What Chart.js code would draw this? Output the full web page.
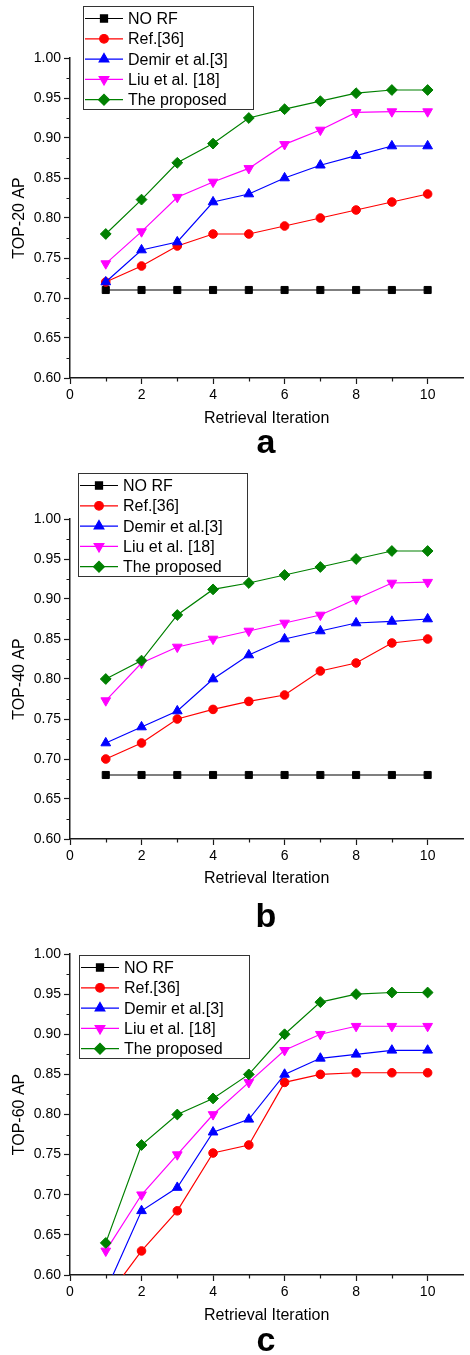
<!DOCTYPE html>
<html>
<head>
<meta charset="utf-8">
<script src="https://cdn.jsdelivr.net/npm/chart.js@4/dist/chart.umd.min.js"></script>
<style>
html,body{margin:0;padding:0;background:#fff;}
body{width:470px;height:1355px;position:relative;overflow:hidden;}
.panel{position:absolute;left:0;width:470px;}
</style>
</head>
<body>
<div class="panel" style="top:0;height:460px"><canvas id="ca"></canvas></div>
<div class="panel" style="top:460px;height:470px"><canvas id="cb"></canvas></div>
<div class="panel" style="top:930px;height:425px"><canvas id="cc"></canvas></div>
<script>
// ---------- data ----------
const iterations = [1, 2, 3, 4, 5, 6, 7, 8, 9, 10];
const seriesNames = ['NO RF', 'Ref.[36]', 'Demir et al.[3]', 'Liu et al. [18]', 'The proposed'];
const panelLetters = ['a', 'b', 'c'];
const yAxisTitles = ['TOP-20 AP', 'TOP-40 AP', 'TOP-60 AP'];
const xAxisTitle = 'Retrieval Iteration';

// TOP-20
const top20NoRF     = [0.71, 0.71, 0.71, 0.71, 0.71, 0.71, 0.71, 0.71, 0.71, 0.71];
const top20Ref36    = [0.72, 0.74, 0.765, 0.78, 0.78, 0.79, 0.80, 0.81, 0.82, 0.83];
const top20Demir    = [0.72, 0.76, 0.77, 0.82, 0.83, 0.85, 0.866, 0.878, 0.89, 0.89];
const top20Liu      = [0.743, 0.783, 0.826, 0.845, 0.862, 0.892, 0.91, 0.932, 0.933, 0.933];
const top20Proposed = [0.78, 0.823, 0.869, 0.893, 0.925, 0.936, 0.946, 0.956, 0.96, 0.96];

// TOP-40
const top40NoRF     = [0.68, 0.68, 0.68, 0.68, 0.68, 0.68, 0.68, 0.68, 0.68, 0.68];
const top40Ref36    = [0.70, 0.72, 0.75, 0.762, 0.772, 0.78, 0.81, 0.82, 0.845, 0.85];
const top40Demir    = [0.72, 0.74, 0.76, 0.80, 0.83, 0.85, 0.86, 0.87, 0.872, 0.875];
const top40Liu      = [0.773, 0.82, 0.84, 0.85, 0.86, 0.87, 0.88, 0.90, 0.92, 0.921];
const top40Proposed = [0.80, 0.823, 0.88, 0.912, 0.92, 0.93, 0.94, 0.95, 0.96, 0.96];

// TOP-60 (NO RF lies below the visible range)
const top60NoRF     = [0.55, 0.55, 0.55, 0.55, 0.55, 0.55, 0.55, 0.55, 0.55, 0.55];
const top60Ref36    = [0.57, 0.63, 0.68, 0.752, 0.762, 0.84, 0.85, 0.852, 0.852, 0.852];
const top60Demir    = [0.58, 0.68, 0.709, 0.778, 0.794, 0.85, 0.87, 0.875, 0.88, 0.88];
const top60Liu      = [0.63, 0.70, 0.75, 0.80, 0.84, 0.88, 0.90, 0.91, 0.91, 0.91];
const top60Proposed = [0.64, 0.762, 0.80, 0.82, 0.85, 0.90, 0.94, 0.95, 0.952, 0.952];

// ---------- styles ----------
const COLORS = ['#000000', '#ff0000', '#0000ff', '#ff00ff', '#008000'];
const STYLES = ['rect', 'circle', 'triangle', 'triangle', 'rectRot'];
const ROTS   = [0, 0, 0, 180, 0];
const RADII  = [5, 4.3, 5.6, 5.6, 5.4];
const FONT = '"Liberation Sans", Arial, Helvetica, sans-serif';

Chart.defaults.font.family = FONT;
Chart.defaults.color = '#000';

function drawMarker(ctx, style, rot, r, x, y) {
  if (Chart.helpers && Chart.helpers.drawPoint) {
    Chart.helpers.drawPoint(ctx, {pointStyle: style, rotation: rot, radius: r, borderWidth: 1}, x, y);
    return;
  }
  ctx.beginPath(); ctx.arc(x, y, r, 0, Math.PI * 2); ctx.fill();
}

const decor = {
  id: 'decor',
  afterDraw(chart, args, opts) {
    const ctx = chart.ctx;
    const xs = chart.scales.x, ys = chart.scales.y;
    ctx.save();
    // minor ticks
    ctx.strokeStyle = '#1a1a1a';
    ctx.lineWidth = 1.2;
    ctx.beginPath();
    for (let k = 0; k < 8; k++) {
      const v = 0.625 + k * 0.05;
      const py = Math.round(ys.getPixelForValue(v)) + 0.5;
      ctx.moveTo(chart.chartArea.left - 3.5, py);
      ctx.lineTo(chart.chartArea.left, py);
    }
    for (let k = 1; k <= 9; k += 2) {
      const px = Math.round(xs.getPixelForValue(k)) + 0.5;
      ctx.moveTo(px, chart.chartArea.bottom);
      ctx.lineTo(px, chart.chartArea.bottom + 3.5);
    }
    ctx.stroke();

    // legend box
    const lg = opts.legend;
    ctx.fillStyle = '#fff';
    ctx.fillRect(lg.x, lg.y, lg.w, lg.h);
    ctx.strokeStyle = '#333';
    ctx.lineWidth = 1;
    ctx.strokeRect(lg.x + 0.5, lg.y + 0.5, lg.w, lg.h);
    chart.data.datasets.forEach((ds, i) => {
      const cy = lg.y + 12.5 + i * 20.3;
      ctx.strokeStyle = ds.borderColor;
      ctx.lineWidth = 1.2;
      ctx.beginPath();
      ctx.moveTo(lg.x + 2, cy);
      ctx.lineTo(lg.x + 40, cy);
      ctx.stroke();
      ctx.fillStyle = ds.backgroundColor;
      ctx.strokeStyle = ds.backgroundColor;
      drawMarker(ctx, ds.pointStyle, ds.pointRotation, ds.pointRadius, lg.x + 21, cy);
      ctx.fillStyle = '#000';
      ctx.font = '16px ' + FONT;
      ctx.textAlign = 'left';
      ctx.textBaseline = 'middle';
      ctx.fillText(ds.label, lg.x + 45, cy + 1);
    });

    // panel letter
    ctx.fillStyle = '#000';
    ctx.font = 'bold 34px ' + FONT;
    ctx.textAlign = 'center';
    ctx.textBaseline = 'alphabetic';
    ctx.fillText(opts.letter, 266, opts.letterBaseline);
    ctx.restore();
  }
};

function makeChart(id, cfg) {
  const datasets = cfg.series.map((vals, i) => ({
    label: seriesNames[i],
    data: iterations.map((x, j) => ({x: x, y: vals[j]})),
    borderColor: COLORS[i],
    backgroundColor: COLORS[i],
    pointBackgroundColor: COLORS[i],
    pointBorderColor: COLORS[i],
    pointBorderWidth: 1,
    pointStyle: STYLES[i],
    pointRotation: ROTS[i],
    pointRadius: RADII[i],
    pointHoverRadius: RADII[i],
    borderWidth: 1.2,
    tension: 0,
    order: 5 - i
  }));
  return new Chart(document.getElementById(id), {
    type: 'line',
    data: {datasets: datasets},
    plugins: [decor],
    options: {
      responsive: true,
      maintainAspectRatio: false,
      animation: false,
      layout: {padding: {top: cfg.top, right: 3, left: 0, bottom: 0}},
      plugins: {
        legend: {display: false},
        tooltip: {enabled: false},
        decor: {legend: cfg.legend, letter: cfg.letter, letterBaseline: cfg.letterBaseline}
      },
      scales: {
        x: {
          type: 'linear',
          min: 0, max: 11,
          afterFit: s => { s.height = cfg.H - cfg.bottom; },
          border: {display: true, color: '#1a1a1a', width: 1.5},
          grid: {display: true, drawOnChartArea: false, drawTicks: true, tickLength: 6, tickColor: '#1a1a1a', tickWidth: 1.2},
          ticks: {stepSize: 2, includeBounds: false, padding: 3, font: {size: 14}, color: '#000', maxRotation: 0,
                  callback: v => String(v)},
          title: {display: true, text: xAxisTitle, font: {size: 16}, color: '#000',
                  padding: {top: 0, bottom: cfg.xTitlePad}}
        },
        y: {
          type: 'linear',
          min: 0.6, max: 1.0,
          afterFit: s => { s.width = 70; },
          border: {display: true, color: '#1a1a1a', width: 1.5},
          grid: {display: true, drawOnChartArea: false, drawTicks: true, tickLength: 6, tickColor: '#1a1a1a', tickWidth: 1.2},
          ticks: {stepSize: 0.05, padding: 3, font: {size: 14}, color: '#000',
                  callback: v => Number(v).toFixed(2)},
          title: {display: true, text: cfg.yTitle, font: {size: 16}, color: '#000',
                  padding: {top: 10.4, bottom: 0}}
        }
      }
    }
  });
}

makeChart('ca', {
  H: 460, top: 58, bottom: 378, xTitlePad: 31.4,
  yTitle: yAxisTitles[0], letter: panelLetters[0], letterBaseline: 453,
  legend: {x: 83, y: 6, w: 170, h: 103},
  series: [top20NoRF, top20Ref36, top20Demir, top20Liu, top20Proposed]
});
makeChart('cb', {
  H: 470, top: 59, bottom: 379, xTitlePad: 41.4,
  yTitle: yAxisTitles[1], letter: panelLetters[1], letterBaseline: 467,
  legend: {x: 78, y: 13, w: 169, h: 103},
  series: [top40NoRF, top40Ref36, top40Demir, top40Liu, top40Proposed]
});
makeChart('cc', {
  H: 425, top: 24, bottom: 345, xTitlePad: 29.4,
  yTitle: yAxisTitles[2], letter: panelLetters[2], letterBaseline: 421,
  legend: {x: 79, y: 25, w: 170, h: 103},
  series: [top60NoRF, top60Ref36, top60Demir, top60Liu, top60Proposed]
});
</script>
</body>
</html>
